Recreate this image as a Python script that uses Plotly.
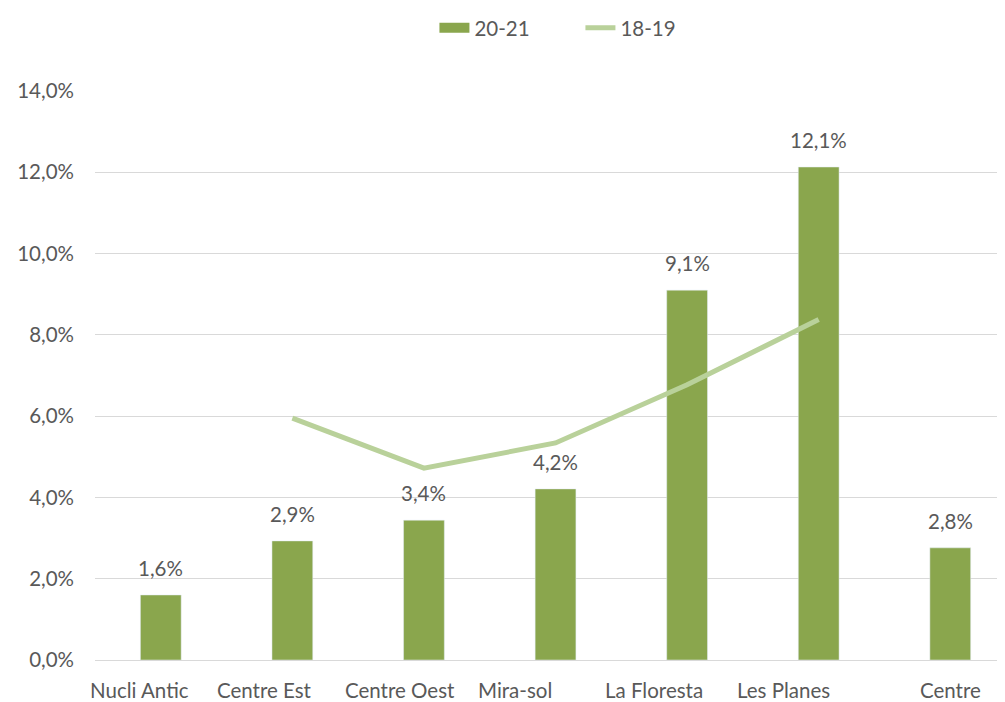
import plotly.graph_objects as go

categories = ["Nucli Antic", "Centre Est", "Centre Oest", "Mira-sol", "La Floresta", "Les Planes", "Centre"]
values_2021 = [1.6, 2.93, 3.44, 4.21, 9.1, 12.13, 2.76]
values_1819 = [None, 5.95, 4.72, 5.34, 6.77, 8.38, None]
label_shifts = [-21, -28, -24, -41, -33, -35, 0]

BAR = "#8AA64D"
LINE = "#B9D19A"
TXT = "#595959"
FONT = "Lato"
FS = 20.5

fig = go.Figure()
fig.add_trace(go.Bar(x=categories, y=values_2021, name="20-21", marker_color=BAR,
                     width=0.31, hoverinfo="skip", showlegend=False))
# legend entry for bars drawn as a wide block
fig.add_trace(go.Scatter(x=[None], y=[None], name="20-21", mode="lines",
                         line=dict(color=BAR, width=13), hoverinfo="skip"))
fig.add_trace(go.Scatter(x=categories, y=values_1819, name="18-19", mode="lines",
                         line=dict(color=LINE, width=5), connectgaps=False, hoverinfo="skip"))

annotations = []
for c, v in zip(categories, values_2021):
    annotations.append(dict(x=c, y=v, xref="x", yref="y", text=f"{v:.1f}%".replace(".", ","),
                            showarrow=False, yanchor="bottom", yshift=13,
                            font=dict(family=FONT, size=FS, color=TXT)))
for c, s in zip(categories, label_shifts):
    annotations.append(dict(x=c, y=0, xref="x", yref="y", text=c, showarrow=False,
                            yanchor="middle", yshift=-30, xshift=s,
                            font=dict(family=FONT, size=FS, color=TXT)))

fig.update_layout(
    width=997, height=694,
    margin=dict(l=87, r=0, t=83, b=42),
    paper_bgcolor="white", plot_bgcolor="white",
    separators=", ",
    showlegend=True,
    legend=dict(orientation="h", x=0.373, xanchor="left", y=1.0, yref="container",
                yanchor="top", font=dict(family=FONT, size=FS, color=TXT),
                traceorder="normal", entrywidth=101, entrywidthmode="pixels"),
    annotations=annotations,
)
fig.update_xaxes(type="category", range=[-0.5, 6.416], showticklabels=False,
                 showgrid=False, showline=True, linecolor="#D9D9D9", linewidth=1,
                 zeroline=False, fixedrange=True)
fig.update_yaxes(range=[0, 14], dtick=2, tickformat=".1f", ticksuffix="%",
                 showgrid=True, gridcolor="#D9D9D9", gridwidth=1, zeroline=False,
                 showline=False, ticks="", ticklabelstandoff=20,
                 tickfont=dict(family=FONT, size=FS, color=TXT))

fig.write_html("out.html")
